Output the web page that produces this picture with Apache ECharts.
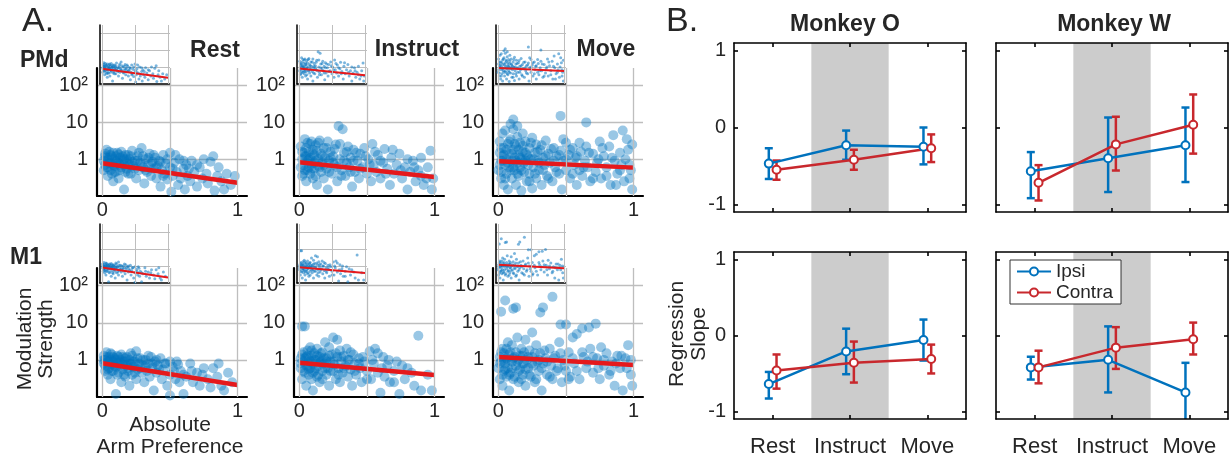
<!DOCTYPE html>
<html>
<head>
<meta charset="utf-8">
<script src="https://cdn.jsdelivr.net/npm/echarts@6/dist/echarts.min.js"></script>
<style>
  html, body { margin: 0; padding: 0; background: #fff; }
  #chart { width: 1229px; height: 463px; }
</style>
</head>
<body>
<div id="chart"></div>
<script>
// ── Panel A: modulation strength vs absolute arm preference ──
const pmdRest = [[0.01,0.9],[0.02,1.4],[0.03,0.6],[0.03,1.1],[0.04,0.35],[0.05,0.8],[0.05,1.6],[0.06,0.5],[0.07,1.2],[0.08,0.7],[0.08,0.25],[0.09,1.0],[0.1,0.45],[0.11,1.5],[0.12,0.8],[0.12,0.3],[0.13,1.1],[0.14,0.6],[0.15,0.9],[0.16,0.15],[0.17,1.3],[0.18,0.55],[0.19,0.75],[0.2,1.0],[0.21,0.4],[0.22,1.7],[0.23,0.65],[0.24,0.9],[0.25,0.3],[0.26,1.2],[0.27,0.5],[0.28,0.8],[0.29,2.0],[0.3,0.6],[0.31,0.22],[0.32,1.0],[0.33,0.45],[0.34,0.7],[0.35,1.4],[0.36,0.35],[0.37,0.85],[0.38,0.55],[0.39,1.1],[0.4,0.3],[0.41,0.65],[0.42,0.9],[0.43,0.18],[0.44,0.5],[0.45,1.3],[0.46,0.4],[0.47,0.75],[0.48,0.28],[0.5,1.5],[0.5,0.6],[0.51,0.13],[0.52,0.35],[0.53,0.8],[0.55,0.45],[0.56,0.2],[0.57,1.0],[0.58,0.3],[0.6,0.55],[0.61,0.15],[0.62,0.7],[0.63,0.35],[0.65,0.25],[0.66,0.9],[0.68,0.45],[0.7,0.18],[0.72,0.6],[0.74,0.3],[0.75,1.0],[0.78,0.22],[0.8,0.85],[0.83,0.14],[0.85,0.35],[0.88,0.25],[0.9,0.15],[0.95,0.2],[0.98,0.35],[0.01,0.5],[0.02,0.7],[0.03,1.8],[0.04,0.95],[0.06,1.3],[0.07,0.4],[0.09,0.65],[0.1,1.2],[0.11,0.9],[0.13,0.7],[0.14,1.6],[0.16,1.0],[0.17,0.45],[0.19,1.3],[0.2,0.7],
  [0.02,1.2],[0.04,0.6],[0.05,1.1],[0.06,0.75],[0.08,1.5],[0.09,0.45],[0.1,0.85],[0.12,1.35],[0.13,0.5],[0.15,1.2],[0.16,0.7],[0.18,1.0],[0.19,0.4],[0.21,1.2],[0.22,0.85],[0.24,0.55],[0.26,0.9],[0.27,1.5],[0.29,0.7],[0.3,1.2],[0.32,0.5],[0.34,1.1],[0.36,0.75],[0.38,1.3],[0.4,0.6],[0.43,0.85],[0.45,0.35],[0.48,1.0],[0.52,0.55],[0.54,1.3],[0.6,0.9],[0.64,0.55],[0.7,0.7],[0.77,0.4],[0.82,1.2],[0.86,0.6],[0.92,0.4]];
const pmdInstruct = [[0.01,0.6],[0.01,2.2],[0.02,1.0],[0.02,0.35],[0.03,1.5],[0.03,0.7],[0.04,3.5],[0.04,0.5],[0.05,1.2],[0.05,0.25],[0.06,0.9],[0.06,2.8],[0.07,0.6],[0.07,1.6],[0.08,0.4],[0.08,1.1],[0.09,3.0],[0.09,0.75],[0.1,0.3],[0.1,1.8],[0.11,0.55],[0.11,1.3],[0.12,0.9],[0.12,2.4],[0.13,0.2],[0.14,0.65],[0.14,1.0],[0.15,3.2],[0.16,0.45],[0.16,1.4],[0.17,0.8],[0.18,0.3],[0.18,2.0],[0.19,1.1],[0.2,0.55],[0.21,0.15],[0.21,3.0],[0.22,0.9],[0.23,1.6],[0.24,0.4],[0.25,1.2],[0.26,0.7],[0.27,2.5],[0.28,0.25],[0.29,8.0],[0.3,1.0],[0.31,0.5],[0.32,6.5],[0.33,1.5],[0.34,0.35],[0.35,0.8],[0.36,2.2],[0.37,0.6],[0.38,1.1],[0.39,0.18],[0.4,1.8],[0.41,0.45],[0.43,0.9],[0.44,0.3],[0.45,1.4],[0.47,0.6],[0.48,2.0],[0.5,0.4],[0.51,1.0],[0.53,0.25],[0.54,2.6],[0.55,0.7],[0.57,0.45],[0.58,1.3],[0.6,0.3],[0.62,0.8],[0.63,1.9],[0.65,0.55],[0.67,0.2],[0.68,1.1],[0.7,0.4],[0.72,0.7],[0.74,1.4],[0.76,0.3],[0.78,0.6],[0.8,0.15],[0.82,0.45],[0.84,0.9],[0.86,0.25],[0.88,0.5],[0.9,0.35],[0.92,0.2],[0.95,0.6],[0.97,1.7],[0.99,0.3],[0.98,0.15],
  [0.02,1.6],[0.03,0.4],[0.04,1.2],[0.05,2.0],[0.06,0.5],[0.07,1.0],[0.08,2.6],[0.09,0.55],[0.1,1.4],[0.11,0.8],[0.12,0.35],[0.13,1.7],[0.14,2.8],[0.15,0.6],[0.17,1.2],[0.18,0.7],[0.2,2.0],[0.22,0.45],[0.23,1.1],[0.25,0.8],[0.26,1.9],[0.28,0.6],[0.3,2.6],[0.31,0.35],[0.33,0.9],[0.35,1.6],[0.38,0.45],[0.4,0.9],[0.42,1.5],[0.45,0.55],[0.49,1.2],[0.52,0.7],[0.56,1.6],[0.6,0.9],[0.64,0.4],[0.69,1.8],[0.75,0.5],[0.8,1.0],[0.85,0.6],[0.9,1.1],[0.94,0.3]];
const pmdMove = [[0.0,0.5],[0.01,1.5],[0.01,3.0],[0.02,0.3],[0.02,0.9],[0.03,5.0],[0.03,1.2],[0.04,0.2],[0.04,2.0],[0.05,0.7],[0.05,6.0],[0.06,1.0],[0.06,0.4],[0.07,2.6],[0.07,0.15],[0.08,1.4],[0.08,0.6],[0.09,9.0],[0.09,3.5],[0.1,0.9],[0.1,0.3],[0.11,1.8],[0.11,6.5],[0.12,0.5],[0.12,1.1],[0.13,0.2],[0.13,2.2],[0.14,0.8],[0.14,4.0],[0.15,1.3],[0.15,0.35],[0.16,2.8],[0.16,0.6],[0.17,1.0],[0.17,0.14],[0.18,5.0],[0.18,1.6],[0.19,0.45],[0.2,0.9],[0.2,3.0],[0.21,0.25],[0.21,1.3],[0.22,0.7],[0.23,2.0],[0.23,0.4],[0.24,1.0],[0.25,0.16],[0.25,3.8],[0.26,0.6],[0.27,1.5],[0.28,0.3],[0.28,2.5],[0.29,0.9],[0.3,0.5],[0.31,1.8],[0.32,0.2],[0.33,1.1],[0.34,0.7],[0.35,3.2],[0.36,0.35],[0.37,1.4],[0.38,0.8],[0.4,0.25],[0.41,2.0],[0.42,0.6],[0.43,1.2],[0.45,0.4],[0.46,15.0],[0.46,1.7],[0.47,0.15],[0.48,0.9],[0.5,2.8],[0.5,0.5],[0.52,1.3],[0.53,0.3],[0.55,2.0],[0.56,0.7],[0.57,1.1],[0.58,0.2],[0.6,0.5],[0.61,1.6],[0.62,0.35],[0.64,0.9],[0.65,2.2],[0.66,0.6],[0.68,0.25],[0.65,10.0],[0.7,1.4],[0.72,0.45],[0.73,0.8],[0.75,3.0],[0.76,0.3],[0.78,1.2],[0.8,0.6],[0.82,2.2],[0.83,0.2],[0.85,4.5],[0.86,0.9],[0.88,0.4],[0.9,1.5],[0.91,0.7],[0.93,0.25],[0.95,3.5],[0.96,1.8],[0.98,0.5],[0.99,0.15],[0.97,0.3],[0.92,6.0],[0.11,12.0],[0.14,8.0],
  [0.01,0.7],[0.02,2.0],[0.02,0.45],[0.03,0.9],[0.04,1.3],[0.05,0.3],[0.06,1.8],[0.07,0.8],[0.08,3.0],[0.09,0.5],[0.1,1.4],[0.11,0.6],[0.12,2.6],[0.13,0.9],[0.14,0.4],[0.15,1.8],[0.16,1.1],[0.17,0.5],[0.18,2.3],[0.19,0.8],[0.2,1.5],[0.22,1.1],[0.23,0.25],[0.24,2.8],[0.26,1.0],[0.27,0.4],[0.29,1.6],[0.3,0.8],[0.32,2.4],[0.33,0.5],[0.35,1.2],[0.37,0.3],[0.39,1.9],[0.41,0.9],[0.43,0.45],[0.45,1.3],[0.48,3.5],[0.5,1.0],[0.53,1.8],[0.55,0.4],[0.58,1.2],[0.6,2.8],[0.63,0.6],[0.67,1.5],[0.7,0.3],[0.74,1.0],[0.77,2.0],[0.8,0.35],[0.84,1.1],[0.87,0.2],[0.9,0.5],[0.94,1.0],[0.97,0.7],[0.99,2.5]];
const m1Rest = [[0.01,0.8],[0.01,1.3],[0.02,0.5],[0.02,1.0],[0.03,0.7],[0.03,1.6],[0.04,0.4],[0.04,0.9],[0.05,1.2],[0.05,0.6],[0.06,0.3],[0.06,1.0],[0.07,0.75],[0.07,1.4],[0.08,0.5],[0.08,0.9],[0.09,1.1],[0.1,0.65],[0.1,0.12],[0.11,0.85],[0.11,1.3],[0.12,0.45],[0.13,1.0],[0.13,0.7],[0.14,0.25],[0.15,1.2],[0.15,0.55],[0.16,0.9],[0.17,0.35],[0.17,1.1],[0.18,0.7],[0.19,0.5],[0.2,1.0],[0.2,0.2],[0.21,0.8],[0.22,1.3],[0.22,0.4],[0.23,0.65],[0.24,0.9],[0.25,0.3],[0.25,1.7],[0.26,0.55],[0.27,0.8],[0.28,1.1],[0.29,0.45],[0.3,0.7],[0.31,0.25],[0.32,1.0],[0.33,0.5],[0.34,0.8],[0.35,0.35],[0.36,1.2],[0.37,0.6],[0.38,0.15],[0.39,0.9],[0.4,0.45],[0.41,0.7],[0.43,1.1],[0.44,0.3],[0.45,0.55],[0.47,0.8],[0.48,0.2],[0.5,0.4],[0.5,0.11],[0.52,0.65],[0.54,0.3],[0.55,0.9],[0.57,0.25],[0.58,0.5],[0.6,0.12],[0.62,0.35],[0.65,0.8],[0.67,0.25],[0.7,0.45],[0.72,0.2],[0.75,0.6],[0.78,0.3],[0.8,0.18],[0.82,0.6],[0.85,0.35],[0.88,0.2],[0.9,0.15],[0.93,0.45],[0.96,0.25],
  [0.01,1.0],[0.02,0.7],[0.03,1.2],[0.04,0.55],[0.05,0.9],[0.06,1.5],[0.07,0.5],[0.08,1.2],[0.09,0.7],[0.1,1.0],[0.11,0.4],[0.12,1.2],[0.13,0.85],[0.14,1.4],[0.15,0.75],[0.16,0.4],[0.17,0.9],[0.18,1.2],[0.19,0.6],[0.2,0.8],[0.21,1.5],[0.23,0.9],[0.24,0.45],[0.26,1.1],[0.28,0.6],[0.3,1.0],[0.32,0.7],[0.34,1.3],[0.37,0.8],[0.4,1.0],[0.42,0.55],[0.46,0.8],[0.5,0.9],[0.53,0.5],[0.56,0.75],[0.6,0.4],[0.66,0.5],[0.74,0.4],[0.86,0.8]];
const m1Instruct = [[0.01,0.6],[0.01,1.1],[0.02,0.3],[0.02,8.0],[0.03,0.9],[0.03,1.6],[0.04,0.45],[0.04,8.0],[0.05,1.2],[0.05,0.2],[0.06,0.7],[0.06,1.8],[0.07,0.4],[0.07,1.0],[0.08,0.6],[0.08,2.2],[0.09,0.3],[0.09,1.3],[0.1,0.8],[0.1,0.15],[0.11,1.5],[0.11,0.5],[0.12,1.0],[0.13,0.35],[0.13,2.0],[0.14,0.7],[0.15,1.2],[0.15,0.25],[0.16,0.9],[0.17,1.6],[0.17,0.5],[0.18,0.8],[0.19,3.0],[0.2,0.4],[0.2,1.1],[0.21,0.6],[0.22,2.2],[0.22,0.2],[0.23,0.9],[0.24,1.4],[0.25,0.5],[0.25,4.0],[0.26,0.75],[0.27,0.3],[0.28,1.2],[0.28,3.5],[0.29,0.6],[0.3,1.8],[0.3,0.25],[0.31,0.9],[0.32,0.45],[0.33,1.3],[0.34,0.7],[0.35,2.0],[0.36,0.35],[0.37,1.0],[0.38,0.55],[0.39,0.2],[0.4,1.4],[0.41,0.8],[0.42,0.4],[0.44,1.1],[0.45,0.6],[0.46,0.25],[0.48,0.9],[0.5,0.5],[0.52,1.7],[0.53,0.3],[0.55,0.8],[0.56,2.0],[0.58,0.45],[0.6,0.13],[0.62,1.2],[0.63,0.35],[0.65,0.7],[0.67,0.25],[0.7,0.5],[0.72,0.9],[0.74,0.12],[0.78,0.3],[0.8,0.6],[0.85,0.2],[0.88,4.5],[0.9,0.15],[0.95,0.4],[0.98,0.15],
  [0.01,0.8],[0.02,1.4],[0.03,0.5],[0.04,1.1],[0.05,0.7],[0.06,1.3],[0.07,0.55],[0.08,0.9],[0.09,1.8],[0.1,0.45],[0.11,1.0],[0.12,0.6],[0.13,1.3],[0.14,0.4],[0.15,0.85],[0.16,1.5],[0.17,0.3],[0.18,1.1],[0.19,0.6],[0.2,0.9],[0.22,1.3],[0.23,0.5],[0.25,0.9],[0.27,1.5],[0.29,0.4],[0.31,1.2],[0.33,0.6],[0.36,1.0],[0.38,1.6],[0.41,0.5],[0.44,0.8],[0.47,1.2],[0.5,0.3],[0.54,1.0],[0.58,1.5],[0.61,0.6],[0.66,1.0],[0.7,0.25],[0.76,0.7],[0.83,0.45]];
const m1Move = [[0.0,0.6],[0.01,1.2],[0.01,0.3],[0.02,20.0],[0.02,0.9],[0.03,2.0],[0.03,0.2],[0.04,0.5],[0.04,1.5],[0.05,40.0],[0.05,0.8],[0.06,0.35],[0.06,1.1],[0.07,3.0],[0.07,0.6],[0.08,0.15],[0.08,1.4],[0.09,0.45],[0.1,2.5],[0.1,0.9],[0.11,24.0],[0.11,0.3],[0.12,1.2],[0.13,0.7],[0.13,26.0],[0.14,4.0],[0.15,0.25],[0.15,1.0],[0.16,0.55],[0.17,2.0],[0.18,0.4],[0.18,1.3],[0.19,0.8],[0.2,0.2],[0.2,3.5],[0.21,1.0],[0.22,0.6],[0.23,1.8],[0.24,0.35],[0.25,5.5],[0.25,1.2],[0.26,0.7],[0.27,0.25],[0.28,2.5],[0.29,0.9],[0.3,0.5],[0.31,1.5],[0.32,0.15],[0.31,19.0],[0.33,0.8],[0.33,26.0],[0.35,1.1],[0.36,0.4],[0.38,2.0],[0.39,0.7],[0.4,0.3],[0.42,1.3],[0.4,50.0],[0.44,0.6],[0.45,3.0],[0.46,9.0],[0.47,0.25],[0.48,1.0],[0.5,0.5],[0.5,9.0],[0.52,1.6],[0.53,0.35],[0.55,4.0],[0.56,0.8],[0.58,5.0],[0.6,0.3],[0.62,7.0],[0.63,1.2],[0.65,0.6],[0.67,7.5],[0.68,2.0],[0.7,0.45],[0.72,9.5],[0.73,1.1],[0.75,0.3],[0.76,2.2],[0.78,0.7],[0.8,1.5],[0.82,0.4],[0.84,0.9],[0.86,0.2],[0.88,1.3],[0.9,0.6],[0.92,0.15],[0.94,1.1],[0.96,2.5],[0.98,0.4],[0.99,0.2],
  [0.01,0.8],[0.02,1.6],[0.03,0.4],[0.04,1.0],[0.05,0.55],[0.06,2.0],[0.07,1.0],[0.08,0.4],[0.09,1.6],[0.1,0.6],[0.11,1.1],[0.12,0.35],[0.13,1.6],[0.14,0.9],[0.15,0.5],[0.16,1.3],[0.17,0.3],[0.18,0.8],[0.19,1.6],[0.2,0.55],[0.22,1.2],[0.23,0.4],[0.25,0.8],[0.27,1.5],[0.28,0.3],[0.3,1.0],[0.32,0.6],[0.34,1.8],[0.36,0.9],[0.38,0.35],[0.41,1.1],[0.43,0.5],[0.46,1.5],[0.49,0.7],[0.52,0.3],[0.55,1.1],[0.58,0.5],[0.62,1.6],[0.66,0.9],[0.7,1.2],[0.74,0.6],[0.78,1.0],[0.83,0.5],[0.87,0.8],[0.91,1.3],[0.95,0.6],[0.98,1.0]];
// regression line value at x=0 and x=1 (Rest, Instruct, Move)
const pmdFits = [[0.78, 0.23], [0.83, 0.33], [0.88, 0.59]];
const m1Fits = [[0.81, 0.21], [0.84, 0.39], [1.19, 0.73]];
const phaseTitles = ['Rest', 'Instruct', 'Move'];

// ── Panel B: regression slope, [mean, lower, upper] per phase ──
const phases = ['Rest', 'Instruct', 'Move'];
const oPmdIpsi = [[-0.47, -0.67, -0.27], [-0.23, -0.42, -0.04], [-0.25, -0.48, 0.0]];
const oPmdContra = [[-0.55, -0.68, -0.43], [-0.42, -0.55, -0.29], [-0.27, -0.45, -0.09]];
const wPmdIpsi = [[-0.57, -0.92, -0.32], [-0.40, -0.84, 0.13], [-0.23, -0.71, 0.26]];
const wPmdContra = [[-0.72, -0.95, -0.49], [-0.22, -0.56, 0.14], [0.035, -0.34, 0.43]];
const oM1Ipsi = [[-0.64, -0.83, -0.48], [-0.21, -0.51, 0.09], [-0.06, -0.33, 0.21]];
const oM1Contra = [[-0.46, -0.70, -0.25], [-0.36, -0.62, -0.08], [-0.31, -0.50, -0.12]];
const wM1Ipsi = [[-0.42, -0.58, -0.28], [-0.32, -0.75, 0.12], [-0.75, -1.15, -0.36]];
const wM1Contra = [[-0.42, -0.63, -0.20], [-0.16, -0.44, 0.11], [-0.05, -0.25, 0.17]];

const FONT = '"Liberation Sans", Arial, sans-serif';
const INK = '#262626';
const BLUE = '#0072BD', RED = '#C8282D';
const DOT = 'rgba(0,114,189,0.5)', DOT_SMALL = 'rgba(0,114,189,0.65)';
const FIT = '#E5191C', GRIDC = '#BEBEBE';

const grid = [], xAxis = [], yAxis = [], series = [];
let gi = 0, ai = 0;

function logLabel(v) {
  const p = Math.round(Math.log10(v));
  if (p === 0) return '1';
  if (p === 1) return '10';
  if (p === 2) return '10²';
  return '';
}

function addScatter(pts, fit, left, top, w, h, small) {
  grid.push({ left: left, top: top, width: w, height: h });
  xAxis.push({
    gridIndex: gi, type: 'value', min: small ? -0.03 : -0.04, max: small ? 1.03 : 1.07,
    axisLine: { show: true, onZero: false, lineStyle: { color: '#000', width: small ? 1.5 : 2.2 } },
    axisTick: { show: false }, splitLine: { show: false },
    axisLabel: small ? { show: false } : { customValues: [0, 1], fontSize: 20, color: INK, margin: 4 },
  });
  yAxis.push({
    gridIndex: gi, type: 'log', logBase: 10, min: 0.1, max: 300,
    axisLine: { show: true, onZero: false, lineStyle: { color: '#000', width: small ? 1.5 : 2.2 } },
    axisTick: { show: false },
    splitLine: { show: true, showMinLine: false, showMaxLine: false, lineStyle: { color: GRIDC, width: small ? 1 : 1.3 } },
    axisLabel: small ? { show: false } : { formatter: logLabel, fontSize: 20, color: INK, margin: 9, showMinLabel: false, showMaxLabel: false },
  });
  // vertical grid lines
  series.push({
    type: 'scatter', xAxisIndex: ai, yAxisIndex: ai, data: [[0, 1]], symbolSize: 0, silent: true, z: 1,
    markLine: { silent: true, symbol: 'none', label: { show: false }, animation: false,
      lineStyle: { color: GRIDC, width: small ? 1 : 1.3, type: 'solid' },
      data: [{ xAxis: 0 }, { xAxis: 0.5 }, { xAxis: 1 }] },
  });
  series.push({
    type: 'scatter', xAxisIndex: ai, yAxisIndex: ai, data: pts, symbolSize: small ? 3 : 10,
    itemStyle: { color: small ? DOT_SMALL : DOT }, silent: true, z: 2,
  });
  series.push({
    type: 'line', xAxisIndex: ai, yAxisIndex: ai, data: [[0, fit[0]], [1, fit[1]]], symbol: 'none',
    lineStyle: { color: FIT, width: small ? 2 : 4.5 }, silent: true, z: 3,
  });
  gi++; ai++;
}

const aLefts = [97, 294, 493];
const pmdSets = [pmdRest, pmdInstruct, pmdMove];
const m1Sets = [m1Rest, m1Instruct, m1Move];
for (let i = 0; i < 3; i++) {
  addScatter(pmdSets[i], pmdFits[i], aLefts[i], 68, 150, 128, false);
  addScatter(pmdSets[i], pmdFits[i], aLefts[i] + 3, 25, 70, 59, true);
  addScatter(m1Sets[i], m1Fits[i], aLefts[i], 268, 150, 129, false);
  addScatter(m1Sets[i], m1Fits[i], aLefts[i] + 3, 224, 70, 59, true);
}

function boxAxis(pos, showLabel, isX) {
  return {
    gridIndex: gi, type: 'value', position: pos, z: 10,
    min: isX ? 0.5 : -1.1, max: isX ? 3.5 : 1.1,
    axisLine: { show: true, onZero: false, lineStyle: { color: '#000', width: 1.6 } },
    axisTick: { show: true, inside: true, length: 4, customValues: isX ? [1, 2, 3] : [-1, 0, 1], lineStyle: { color: '#000', width: 1.6 } },
    splitLine: { show: false },
    axisLabel: { show: showLabel, customValues: isX ? [1, 2, 3] : [-1, 0, 1], fontSize: isX ? 22 : 20, color: INK,
      margin: isX ? 17 : 8, formatter: isX ? (v => phases[Math.round(v) - 1]) : (v => String(v)) },
  };
}

function addSlopes(ipsi, contra, left, top, h, showY, showX) {
  grid.push({ left: left, top: top, width: 232, height: h });
  xAxis.push(boxAxis('bottom', showX, true));
  xAxis.push(boxAxis('top', false, true));
  yAxis.push(boxAxis('left', showY, false));
  yAxis.push(boxAxis('right', false, false));
  const xb = ai;
  [[ipsi, BLUE, -0.05, 'Ipsi'], [contra, RED, 0.05, 'Contra']].forEach(([vals, color, off, name], k) => {
    const line = {
      type: 'line', name: name, xAxisIndex: xb, yAxisIndex: xb, z: 4, silent: true,
      data: vals.map((v, i) => [i + 1 + off, v[0]]),
      symbol: 'emptyCircle', symbolSize: 8,
      lineStyle: { color: color, width: 2.5 }, itemStyle: { color: color, borderWidth: 2.5 },
    };
    if (k === 0) {
      line.markArea = { silent: true, itemStyle: { color: '#CCCCCC' }, data: [[{ xAxis: 1.5 }, { xAxis: 2.5 }]] };
    }
    series.push(line);
    series.push({
      type: 'custom', xAxisIndex: xb, yAxisIndex: xb, z: 4, silent: true, clip: true,
      data: vals.map((v, i) => [i + 1 + off, v[1], v[2]]),
      encode: { x: 0, y: [1, 2] },
      renderItem: (params, api) => {
        const x = api.value(0);
        const lo = api.coord([x, api.value(1)]);
        const hi = api.coord([x, api.value(2)]);
        const w = 4;
        const style = { stroke: color, lineWidth: 2.5, fill: null };
        return { type: 'group', children: [
          { type: 'line', shape: { x1: lo[0], y1: lo[1], x2: hi[0], y2: hi[1] }, style: style },
          { type: 'line', shape: { x1: lo[0] - w, y1: lo[1], x2: lo[0] + w, y2: lo[1] }, style: style },
          { type: 'line', shape: { x1: hi[0] - w, y1: hi[1], x2: hi[0] + w, y2: hi[1] }, style: style },
        ] };
      },
    });
  });
  gi++; ai += 2;
}

addSlopes(oPmdIpsi, oPmdContra, 734, 43, 169, true, false);
addSlopes(wPmdIpsi, wPmdContra, 996, 43, 169, false, false);
addSlopes(oM1Ipsi, oM1Contra, 734, 252, 167, true, true);
addSlopes(wM1Ipsi, wM1Contra, 996, 252, 167, false, true);

function txt(text, x, y, size, bold, align, rot) {
  return { type: 'text', x: x, y: y, rotation: rot || 0, silent: true, z: 20,
    style: { text: text, fill: INK, font: (bold ? 'bold ' : '') + size + 'px ' + FONT,
      textAlign: align || 'center', textVerticalAlign: 'middle' } };
}

const graphic = [
  txt('A.', 22, 22, 34, false, 'left'),
  txt('B.', 666, 22, 34, false, 'left'),
  txt('PMd', 20, 61, 23, true, 'left'),
  txt('M1', 10, 258, 23, true, 'left'),
  txt(phaseTitles[0], 215, 51, 23, true),
  txt(phaseTitles[1], 417, 50, 23, true),
  txt(phaseTitles[2], 606, 50, 23, true),
  txt('Modulation', 25, 339, 21, false, 'center', Math.PI / 2),
  txt('Strength', 46, 339, 21, false, 'center', Math.PI / 2),
  txt('Absolute', 170, 425, 21, false),
  txt('Arm Preference', 170, 447, 21, false),
  txt('Monkey O', 845, 25, 23, true),
  txt('Monkey W', 1114, 25, 23, true),
  txt('Regression', 677, 334, 21, false, 'center', Math.PI / 2),
  txt('Slope', 699, 334, 21, false, 'center', Math.PI / 2),
];

const chart = echarts.init(document.getElementById('chart'));
chart.setOption({
  animation: false,
  backgroundColor: '#fff',
  textStyle: { fontFamily: FONT },
  grid: grid,
  xAxis: xAxis,
  yAxis: yAxis,
  series: series,
  graphic: graphic,
  legend: {
    data: ['Ipsi', 'Contra'], orient: 'vertical', left: 1010, top: 260, selectedMode: false,
    itemWidth: 34, itemHeight: 10, itemGap: 2, padding: [2, 8, 2, 6],
    borderColor: '#333', borderWidth: 1, backgroundColor: '#fff',
    textStyle: { fontSize: 19, color: INK, fontFamily: FONT },
  },
});
</script>
</body>
</html>
